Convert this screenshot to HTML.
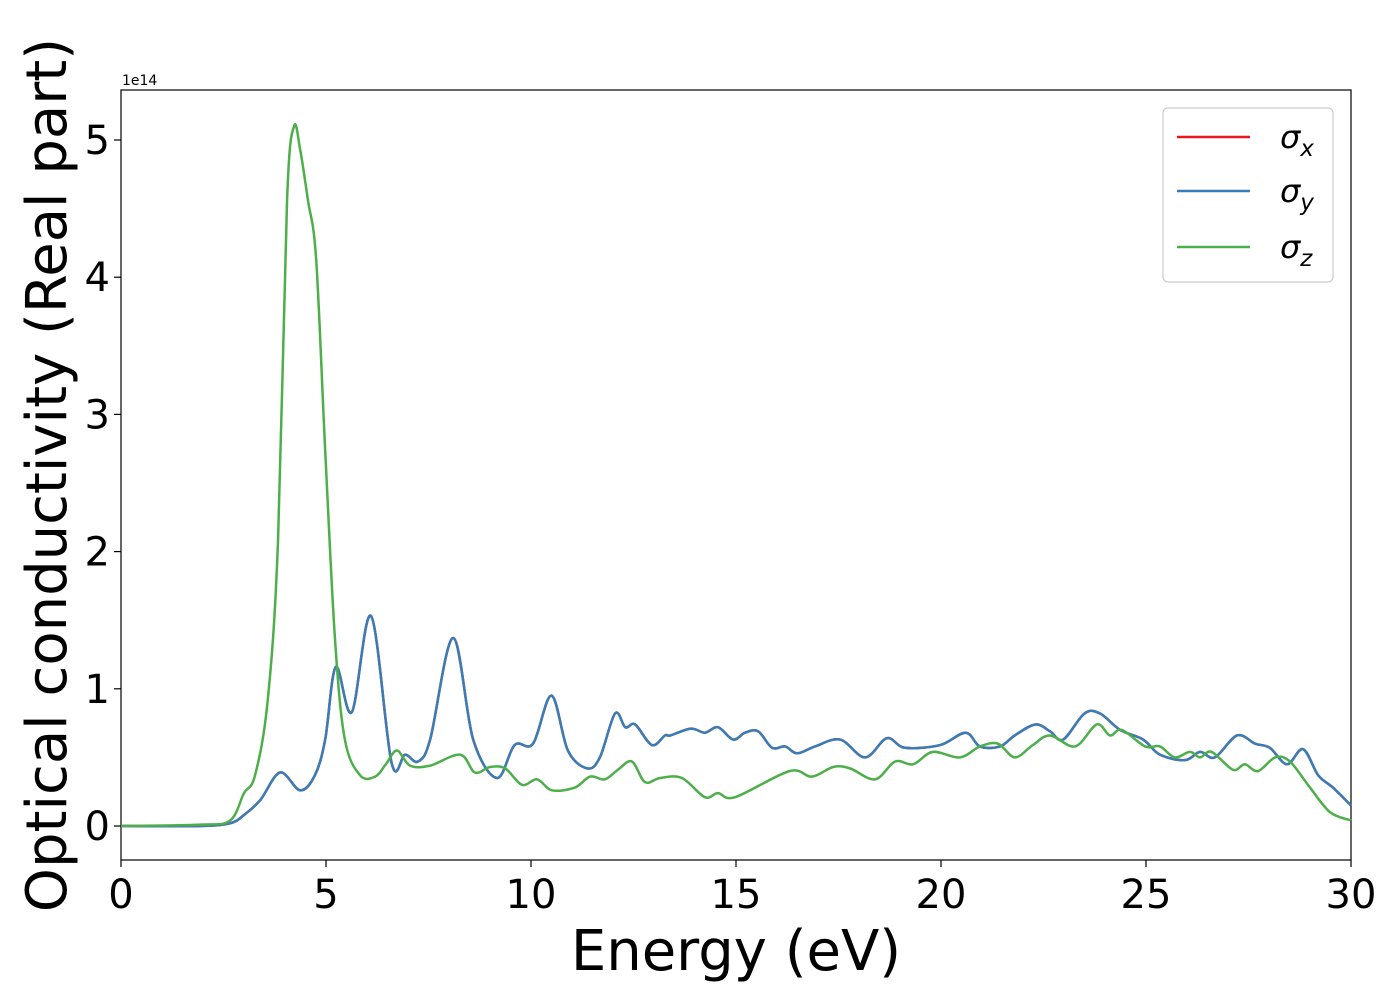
<!DOCTYPE html>
<html><head><meta charset="utf-8"><style>
body{margin:0;background:#fff;}
svg{display:block;font-family:"DejaVu Sans","Liberation Sans",sans-serif;}
</style></head><body>
<svg id="chart" width="1400" height="1000">
<rect x="121" y="90" width="1230" height="770" fill="#fff" stroke="#000" stroke-width="1.2"/>
<g id="ticks"></g>
<g id="series"></g>
<text x="122" y="85" font-size="14">1e14</text>
<text x="736" y="970" font-size="56" text-anchor="middle">Energy (eV)</text>
<text transform="translate(66,475) rotate(-90)" font-size="56" text-anchor="middle">Optical conductivity (Real part)</text>
<g>
<rect x="1163" y="108" width="170" height="174" rx="5" fill="#fff" stroke="#ccc" stroke-width="1.2"/>
<g><line x1="1177" y1="137" x2="1250" y2="137" stroke="#e41a1c" stroke-width="2.5"/><text x="1280" y="148" font-size="32" font-style="italic">σ<tspan font-size="23" dy="8">x</tspan></text></g>
<g><line x1="1177" y1="191" x2="1250" y2="191" stroke="#377eb8" stroke-width="2.5"/><text x="1280" y="202" font-size="32" font-style="italic">σ<tspan font-size="23" dy="8">y</tspan></text></g>
<g><line x1="1177" y1="247" x2="1250" y2="247" stroke="#4daf4a" stroke-width="2.5"/><text x="1280" y="258" font-size="32" font-style="italic">σ<tspan font-size="23" dy="8">z</tspan></text></g>
</g>
</svg>
<script>
const xTicks=[0,5,10,15,20,25,30];
const yTicks=[0,1,2,3,4,5];
const energyXY=[0,1.93,2.66,3.0,3.4,3.88,4.37,4.73,4.98,5.24,5.63,6.1,6.6,6.93,7.24,7.54,8.1,8.59,9.17,9.6,10.05,10.5,10.9,11.37,11.68,12.05,12.3,12.54,12.95,13.27,13.4,13.9,14.24,14.56,14.93,15.22,15.54,15.88,16.2,16.49,16.93,17.54,18.15,18.68,19.12,19.98,20.6,20.95,21.44,21.8,22.3,22.66,22.98,23.5,23.88,24.37,24.93,25.34,25.95,26.32,26.68,27.22,27.66,28.02,28.44,28.83,29.2,29.56,30];
const sigmaX=[0,0,0.02,0.08,0.19,0.39,0.26,0.37,0.63,1.16,0.83,1.53,0.46,0.52,0.47,0.63,1.37,0.63,0.35,0.59,0.6,0.95,0.55,0.42,0.5,0.82,0.72,0.74,0.59,0.66,0.66,0.71,0.68,0.72,0.63,0.68,0.69,0.57,0.58,0.53,0.58,0.63,0.5,0.64,0.57,0.59,0.68,0.58,0.58,0.66,0.74,0.69,0.63,0.82,0.82,0.7,0.63,0.52,0.48,0.54,0.5,0.66,0.6,0.57,0.45,0.56,0.37,0.28,0.15];
const sigmaY=sigmaX.slice();
const energyZ=[0,1.93,2.66,3.0,3.27,3.58,3.83,4.05,4.22,4.37,4.56,4.76,4.98,5.22,5.46,5.83,6.2,6.46,6.73,7.05,7.54,8.27,8.63,9.0,9.37,9.78,10.15,10.51,11.07,11.44,11.8,12.12,12.46,12.78,13.15,13.68,14.24,14.56,14.98,16.3,16.85,17.37,17.78,18.39,18.88,19.32,19.8,20.46,20.95,21.39,21.8,22.24,22.66,23.27,23.8,24.12,24.41,24.98,25.34,25.7,26.07,26.32,26.6,27.12,27.41,27.73,28.15,28.51,29.0,29.49,30];
const sigmaZ=[0,0.01,0.04,0.24,0.37,0.92,2.08,4.56,5.1,4.93,4.56,4.13,2.74,1.36,0.63,0.37,0.36,0.45,0.55,0.44,0.44,0.52,0.39,0.43,0.42,0.3,0.34,0.26,0.28,0.36,0.34,0.41,0.47,0.32,0.35,0.35,0.21,0.24,0.21,0.4,0.36,0.43,0.42,0.34,0.47,0.45,0.54,0.5,0.58,0.6,0.5,0.59,0.66,0.58,0.74,0.66,0.7,0.58,0.58,0.5,0.54,0.5,0.54,0.41,0.45,0.4,0.5,0.47,0.28,0.1,0.04];
const NS='http://www.w3.org/2000/svg';
const X0=121,X1=1351,Y0=826,YS=137.2;
const sx=v=>X0+(v/30)*(X1-X0);
const sy=v=>Y0-v*YS;
const tg=document.getElementById('ticks');
function mk(tag,attrs,parent){const e=document.createElementNS(NS,tag);for(const k in attrs)e.setAttribute(k,attrs[k]);parent.appendChild(e);return e;}
xTicks.forEach(t=>{
  const l=mk('line',{x1:sx(t),x2:sx(t),y1:860,y2:867,stroke:'#000','stroke-width':1.2},tg);
  
  
  const tx=mk('text',{x:sx(t),y:908,'font-size':40,'text-anchor':'middle'},tg);
  tx.textContent=t;
  
  
});
yTicks.forEach(t=>{
  const l=mk('line',{x1:114,x2:121,y1:sy(t),y2:sy(t),stroke:'#000','stroke-width':1.2},tg);
  
  
  const tx=mk('text',{x:110,y:sy(t)+14,'font-size':40,'text-anchor':'end'},tg);
  tx.textContent=t;
  
  
});
function path(xs,ys){
  const p=xs.map((x,i)=>[sx(x),sy(ys[i])]);
  let d='M'+p[0][0]+','+p[0][1];
  for(let i=0;i<p.length-1;i++){
    const a=p[Math.max(0,i-1)],b=p[i],c=p[i+1],e=p[Math.min(p.length-1,i+2)];
    const c1=[b[0]+(c[0]-a[0])/6,b[1]+(c[1]-a[1])/6];
    const c2=[c[0]-(e[0]-b[0])/6,c[1]-(e[1]-b[1])/6];
    d+='C'+c1+' '+c2+' '+c;
  }
  return d;
}
const sg=document.getElementById('series');
const s1=mk('path',{d:path(energyXY,sigmaX),fill:'none',stroke:'#e41a1c','stroke-width':2.5},sg);


const s2=mk('path',{d:path(energyXY,sigmaY),fill:'none',stroke:'#377eb8','stroke-width':2.5},sg);


const s3=mk('path',{d:path(energyZ,sigmaZ),fill:'none',stroke:'#4daf4a','stroke-width':2.5},sg);


</script>
</body></html>
